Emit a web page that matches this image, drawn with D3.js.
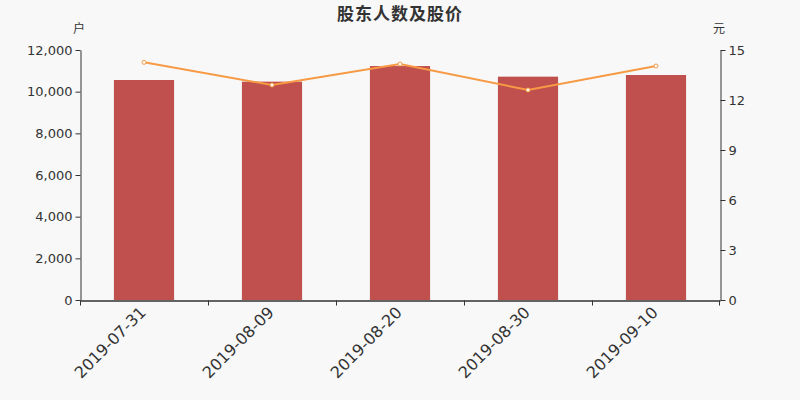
<!DOCTYPE html>
<meta charset="utf-8">
<script src="https://d3js.org/d3.v7.min.js"></script>
<style>
  body { margin: 0; background: #f8f8f8; }
  text { font-family: "DejaVu Sans", "Noto Sans CJK SC", sans-serif; }
</style>
<div id="chart"></div>
<script>
// data
var dates = ["2019-07-31", "2019-08-09", "2019-08-20", "2019-08-30", "2019-09-10"];
var holders = [10560, 10480, 11230, 10720, 10800];   // 股东人数 (户)
var prices = [14.26, 12.90, 14.16, 12.60, 14.04];    // 股价 (元)
var leftTicks = [0, 2000, 4000, 6000, 8000, 10000, 12000];
var rightTicks = [0, 3, 6, 9, 12, 15];

var W = 800, H = 400;
var margin = {top: 50, right: 80, bottom: 100, left: 80},
    width = W - margin.left - margin.right,
    height = H - margin.top - margin.bottom;

var svg = d3.select("#chart").append("svg")
    .attr("width", W).attr("height", H)
    .style("background", "#f8f8f8");

// title and unit labels
svg.append("text")
    .attr("x", W / 2).attr("y", 20)
    .attr("text-anchor", "middle")
    .style("font-size", "17px").style("font-weight", "bold")
    .style("letter-spacing", "1px")
    .style("fill", "#333")
    .style("font-family", "'Noto Sans CJK SC', sans-serif")
    .text("股东人数及股价");
svg.append("text")
    .attr("x", 79).attr("y", 33).attr("text-anchor", "middle")
    .style("font-size", "12px").style("fill", "#333")
    .style("font-family", "'Noto Sans CJK SC', sans-serif")
    .text("户");
svg.append("text")
    .attr("x", 719).attr("y", 33).attr("text-anchor", "middle")
    .style("font-size", "12px").style("fill", "#333")
    .style("font-family", "'Noto Sans CJK SC', sans-serif")
    .text("元");

var g = svg.append("g")
    .attr("transform", "translate(" + margin.left + "," + margin.top + ")");

var x = d3.scaleBand().domain(dates).range([0, width]);
var yL = d3.scaleLinear().domain([0, 12000]).range([height, 0]);
var yR = d3.scaleLinear().domain([0, 15]).range([height, 0]);

// bars
g.selectAll("rect.bar")
  .data(dates)
  .enter().append("rect")
    .attr("class", "bar")
    .attr("x", function(d) { return x(d) + x.bandwidth() * 0.265; })
    .attr("width", x.bandwidth() * 0.47)
    .attr("y", function(d, i) { return yL(holders[i]); })
    .attr("height", function(d, i) { return height - yL(holders[i]); })
    .attr("fill", "#c0504d");

// price line
var line = d3.line()
    .x(function(d, i) { return x(dates[i]) + x.bandwidth() / 2; })
    .y(function(d) { return yR(d); });
g.append("path")
    .datum(prices)
    .attr("d", line)
    .attr("fill", "none")
    .attr("stroke", "#f79a45")
    .attr("stroke-width", 2);
g.selectAll("circle.pt")
  .data(prices)
  .enter().append("circle")
    .attr("class", "pt")
    .attr("cx", function(d, i) { return x(dates[i]) + x.bandwidth() / 2; })
    .attr("cy", function(d) { return yR(d); })
    .attr("r", 2)
    .attr("fill", "#fff")
    .attr("stroke", "#f79a45")
    .attr("stroke-width", 1);

// axes
function styleAxis(sel) {
  sel.selectAll("path, line").attr("stroke", "#333");
  sel.selectAll("text").style("fill", "#333").style("font-size", "13px");
}

g.append("g")
    .attr("transform", "translate(0.5,0)")
    .call(d3.axisLeft(yL).tickValues(leftTicks).tickFormat(d3.format(",")).tickSize(5).tickSizeOuter(0).tickPadding(3))
    .call(styleAxis);

g.append("g")
    .attr("transform", "translate(" + (width + 0.5) + ",0)")
    .call(d3.axisRight(yR).tickValues(rightTicks).tickSize(5).tickSizeOuter(0).tickPadding(3))
    .call(styleAxis);

var bottom = g.append("g")
    .attr("transform", "translate(0," + (height + 0.5) + ")")
    .call(d3.axisBottom(x).tickSize(0).tickSizeOuter(0))
    .call(styleAxis);
bottom.select(".domain").attr("stroke-width", 1.5);
// ticks at band boundaries
bottom.selectAll("line.bound")
  .data(dates.concat(["end"]))
  .enter().append("line")
    .attr("class", "bound")
    .attr("x1", function(d, i) { return i < dates.length ? x(d) + 0.5 : width - 0.5; })
    .attr("x2", function(d, i) { return i < dates.length ? x(d) + 0.5 : width - 0.5; })
    .attr("y1", 0).attr("y2", 5)
    .attr("stroke", "#333");
bottom.selectAll(".tick text")
    .style("font-size", "16px")
    .attr("text-anchor", "end")
    .attr("dy", "0.35em")
    .attr("transform", "translate(-1,9) rotate(-45)")
    .attr("y", 0).attr("x", 0);
</script>
